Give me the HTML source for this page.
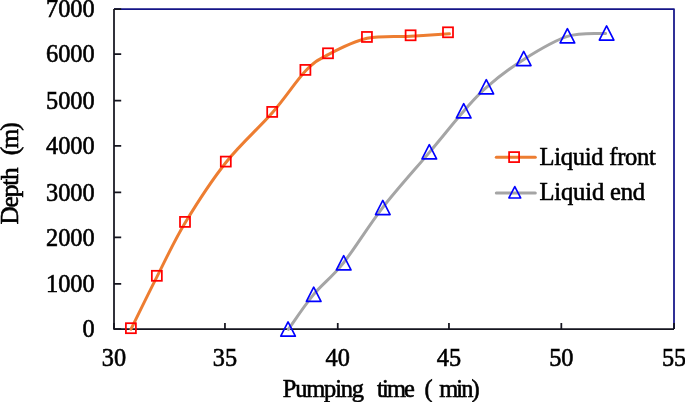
<!DOCTYPE html>
<html><head><meta charset="utf-8"><title>Depth vs Pumping time</title>
<style>
html,body{margin:0;padding:0;background:#fff;width:685px;height:402px;overflow:hidden}
svg{display:block;font-family:"Liberation Serif",serif;will-change:transform}
</style></head><body>
<svg width="685" height="402" viewBox="0 0 685 402"><path d="M114.00 9.10 H674.00 V329.00" fill="none" stroke="#141488" stroke-width="1.75" stroke-linejoin="round"/><path d="M114.00 329.00 H121.20 M114.00 283.90 H121.20 M114.00 237.40 H121.20 M114.00 192.45 H121.20 M114.00 145.80 H121.20 M114.00 100.65 H121.20 M114.00 54.00 H121.20 M114.00 9.10 H121.20 M113.96 329.00 V322.90 M224.95 329.00 V322.90 M337.75 329.00 V322.90 M448.95 329.00 V322.90 M561.33 329.00 V322.90 M674.05 329.00 V322.90" fill="none" stroke="#15151f" stroke-width="1.75"/><path d="M114.00 9.10 V329.00 H674.00" fill="none" stroke="#15151f" stroke-width="1.75" stroke-linejoin="round"/><path d="M131.00 329.20 C135.36 320.40 148.10 294.18 157.15 276.40 C166.20 258.62 173.81 241.53 185.30 222.50 C196.79 203.47 211.57 180.53 226.10 162.20 C240.63 143.87 259.23 127.75 272.50 112.50 C285.77 97.25 296.42 80.35 305.70 70.70 C314.98 61.05 317.97 60.00 328.20 54.60 C338.43 49.20 353.32 41.37 367.05 38.30 C380.78 35.23 396.88 36.95 410.60 36.20 C424.33 35.45 442.93 34.20 449.40 33.80" fill="none" stroke="#ED7D31" stroke-width="3" stroke-linecap="round" stroke-linejoin="round"/><path d="M288.40 329.30 C292.58 323.52 304.35 305.63 313.50 294.60 C322.65 283.57 331.80 277.57 343.30 263.10 C354.80 248.63 368.12 226.30 382.50 207.80 C396.88 189.30 416.04 168.22 429.60 152.10 C443.16 135.98 454.38 121.90 463.85 111.10 C473.32 100.30 476.46 95.92 486.45 87.30 C496.44 78.68 510.31 67.88 523.80 59.40 C537.29 50.92 553.77 40.72 567.40 36.40 C581.03 32.08 599.23 33.98 605.60 33.50" fill="none" stroke="#A5A5A5" stroke-width="3" stroke-linecap="round" stroke-linejoin="round"/><g fill="none" stroke="#FF0000" stroke-width="1.75"><rect x="125.90" y="323.20" width="10.00" height="10.00"/><rect x="151.85" y="270.80" width="10.00" height="10.00"/><rect x="180.00" y="216.90" width="10.00" height="10.00"/><rect x="220.80" y="156.60" width="10.00" height="10.00"/><rect x="267.20" y="106.90" width="10.00" height="10.00"/><rect x="300.40" y="64.90" width="10.00" height="10.00"/><rect x="323.00" y="48.30" width="10.00" height="10.00"/><rect x="361.95" y="31.95" width="10.00" height="10.00"/><rect x="405.60" y="30.30" width="10.00" height="10.00"/><rect x="443.00" y="27.30" width="10.00" height="10.00"/></g><g fill="none" stroke="#0000FF" stroke-width="1.65" stroke-linejoin="round"><polygon points="288.05,321.95 295.35,336.15 280.75,336.15"/><polygon points="313.70,287.20 321.00,301.40 306.40,301.40"/><polygon points="343.70,255.70 351.00,269.90 336.40,269.90"/><polygon points="382.80,200.40 390.10,214.60 375.50,214.60"/><polygon points="429.30,144.70 436.60,158.90 422.00,158.90"/><polygon points="463.70,103.70 471.00,117.90 456.40,117.90"/><polygon points="486.30,79.70 493.60,93.90 479.00,93.90"/><polygon points="523.70,51.40 531.00,65.60 516.40,65.60"/><polygon points="567.40,28.70 574.70,42.90 560.10,42.90"/><polygon points="606.60,25.90 613.90,40.10 599.30,40.10"/></g><path d="M496.3 157.2 H535.3" stroke="#ED7D31" stroke-width="3" stroke-linecap="round"/><g fill="none" stroke="#FF0000" stroke-width="1.75"><rect x="509.10" y="152.10" width="10.00" height="10.00"/></g><path d="M496.3 193.1 H535.3" stroke="#A5A5A5" stroke-width="3" stroke-linecap="round"/><g fill="none" stroke="#0000FF" stroke-width="1.65" stroke-linejoin="round"><polygon points="514.80,186.53 520.67,197.97 508.92,197.97"/></g><g font-family="Liberation Serif, serif" font-size="23" fill="#000" stroke="#000" stroke-width="0.6"><text x="94.60" y="337.10" font-size="24.30" text-anchor="end">0</text><text x="94.60" y="292.00" font-size="24.30" text-anchor="end">1000</text><text x="94.60" y="245.50" font-size="24.30" text-anchor="end">2000</text><text x="94.60" y="200.55" font-size="24.30" text-anchor="end">3000</text><text x="94.60" y="153.90" font-size="24.30" text-anchor="end">4000</text><text x="94.60" y="108.75" font-size="24.30" text-anchor="end">5000</text><text x="94.60" y="62.10" font-size="24.30" text-anchor="end">6000</text><text x="94.60" y="17.20" font-size="24.30" text-anchor="end">7000</text><text x="113.96" y="365.60" font-size="24.30" text-anchor="middle">30</text><text x="224.95" y="365.60" font-size="24.30" text-anchor="middle">35</text><text x="337.75" y="365.60" font-size="24.30" text-anchor="middle">40</text><text x="448.95" y="365.60" font-size="24.30" text-anchor="middle">45</text><text x="561.33" y="365.60" font-size="24.30" text-anchor="middle">50</text><text x="674.05" y="365.60" font-size="24.30" text-anchor="middle">55</text><text x="282.80" y="396.90" font-size="24.40" textLength="81.20" lengthAdjust="spacing">Pumping</text><text x="377.00" y="396.90" font-size="24.40" textLength="37.90" lengthAdjust="spacing">time</text><text x="424.50" y="396.90" font-size="24.40">(</text><text x="439.30" y="396.90" font-size="24.40" textLength="40.20" lengthAdjust="spacing">min)</text><text transform="translate(18.0,224.6) rotate(-90)" font-size="25.3" textLength="57.3" lengthAdjust="spacing">Depth</text><text transform="translate(18.0,155.2) rotate(-90)" font-size="25.3" textLength="33.0" lengthAdjust="spacing">(m)</text><text x="539.50" y="164.90" font-size="24.50" textLength="116.40" lengthAdjust="spacing">Liquid front</text><text x="539.50" y="200.00" font-size="24.50" textLength="105.60" lengthAdjust="spacing">Liquid end</text></g></svg>
</body></html>
